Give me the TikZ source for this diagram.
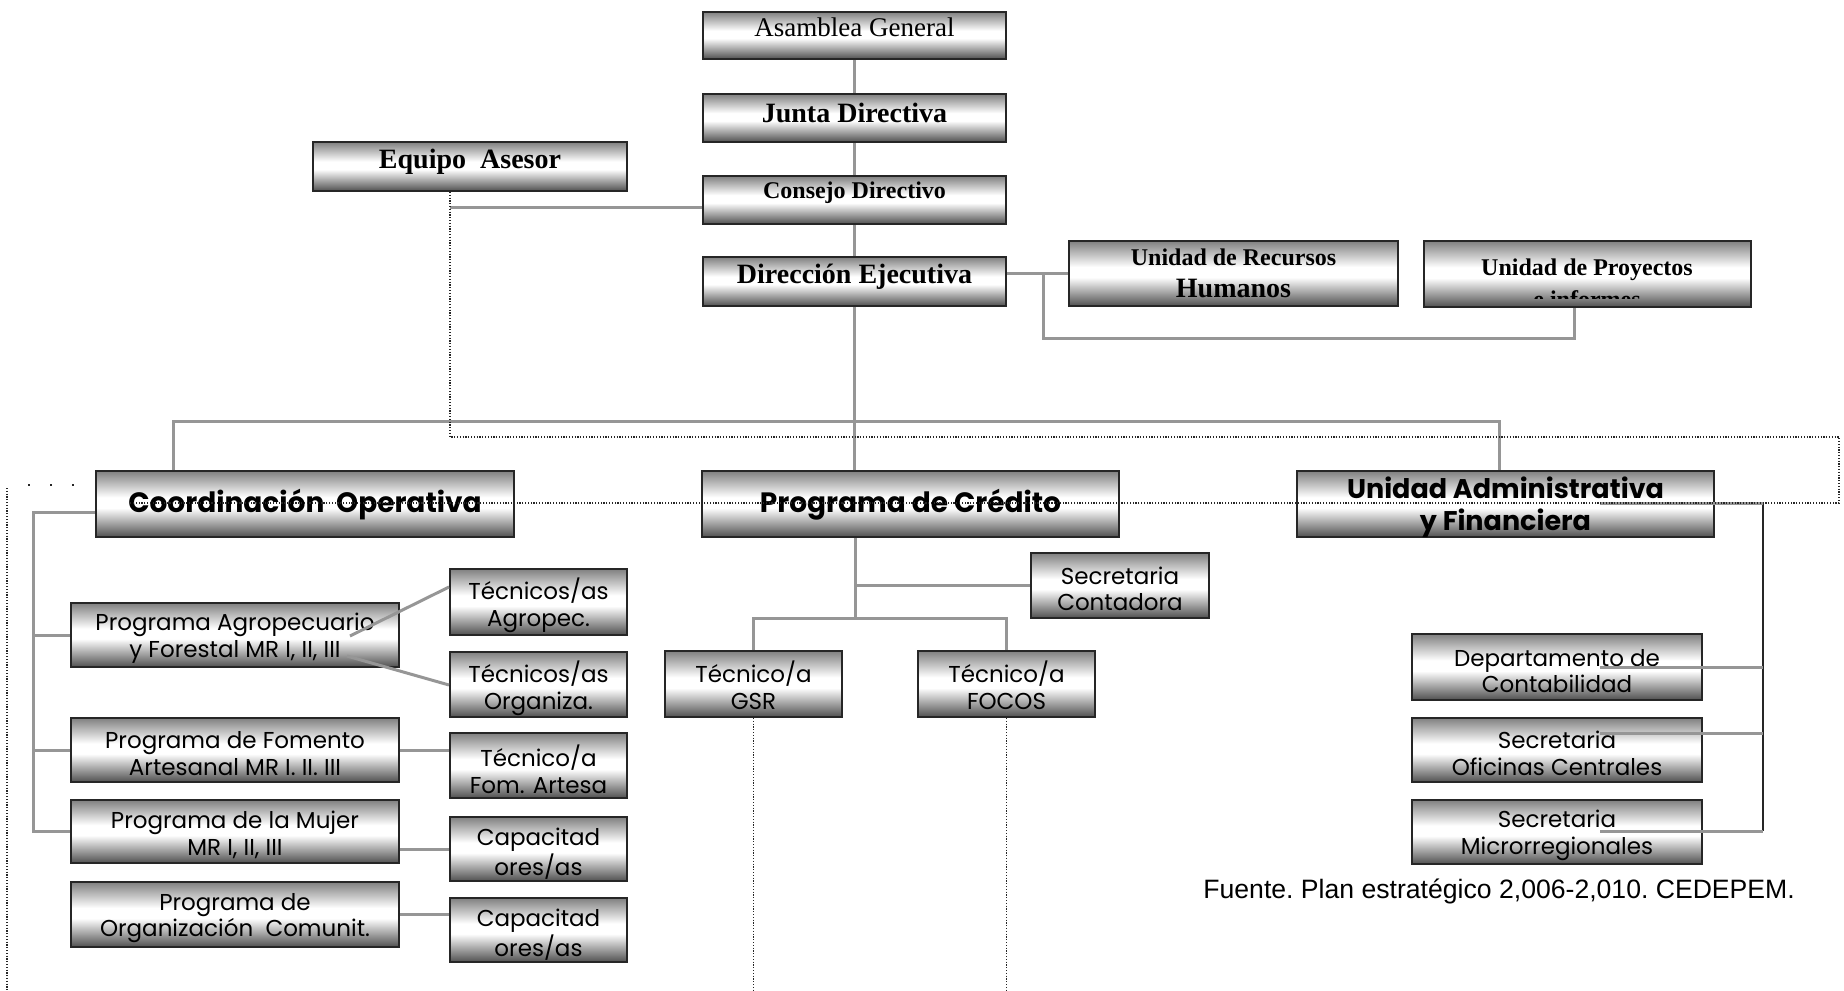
\documentclass[tikz,border=0pt]{standalone}
\usepackage{fontspec}
\setmainfont{Liberation Serif}
\newfontfamily\gothic{Poppins}
\newfontfamily\arialf{Liberation Sans}
\usetikzlibrary{backgrounds}
\definecolor{gbot}{RGB}{80,80,80}
\definecolor{gtop}{RGB}{128,128,128}
\definecolor{conncol}{RGB}{150,150,150}
\pgfdeclareverticalshading{boxshade}{100bp}{color(0bp)=(gbot); color(25bp)=(gbot); color(47bp)=(white); color(55bp)=(white); color(75bp)=(gtop); color(100bp)=(gtop)}
% box node #1 (corners #2,#3 / #4,#5), text node #1t shifted by #6 px, style #7, text #8
\newcommand{\obox}[8]{%
  \node[box,minimum width={(#4-#2)*0.5pt},minimum height={(#5-#3)*0.5pt}] (#1) at ({(#2+#4)/2},{(#3+#5)/2}) {};
  \node[lbl,#7] (#1t) at ({(#2+#4)/2},{(#3+#5)/2+#6}) {#8};}
\tikzset{
  box/.style={draw=black!85, line width=1pt, shade, shading=boxshade, inner sep=0pt},
  lbl/.style={inner sep=0pt, align=center},
  srf/.style={font=\fontsize{13.5}{15}\selectfont},
  srfb/.style={font=\fontsize{14}{16}\selectfont\bfseries},
  gth/.style={font=\gothic\fontsize{11.5}{13.3}\selectfont},
  gthb/.style={font=\gothic\fontsize{14}{16}\selectfont\bfseries},
  conn/.style={draw=conncol, line width=1.5pt},
  blk/.style={draw=black!85, line width=0.8pt},
  dotl/.style={draw=black!85, line width=0.6pt, dash pattern=on 0.6pt off 0.8pt}
}
\begin{document}
\begin{tikzpicture}[x=0.5pt,y=-0.5pt]
\useasboundingbox (0,0) rectangle (1844,991);
% top chain
\obox{asam}{703}{12}{1006}{59}{-8}{srf}{Asamblea General}
\obox{junta}{703}{94}{1006}{142}{-5}{srfb}{Junta Directiva}
\obox{equ}{313}{142}{627}{191}{-5}{srfb}{Equipo\ \ Asesor}
\obox{cons}{703}{176}{1006}{224}{-7}{font=\fontsize{12}{14}\selectfont\bfseries}{Consejo Directivo}
\obox{dir}{703}{257}{1006}{306}{-5}{srfb}{Direcci\'on Ejecutiva}
\obox{rrhh}{1069}{241}{1398}{306}{0}{font=\fontsize{12}{16}\selectfont\bfseries}{Unidad de Recursos\\{\fontsize{14}{16}\selectfont Humanos}}
\node[box,minimum width={(1751-1424)*0.5pt},minimum height={(307-241)*0.5pt}] (proy) at ({(1424+1751)/2},{(241+307)/2}) {};
\begin{scope}
\clip (1424,241) rectangle (1751,298);
\node[lbl,font=\fontsize{12}{16}\selectfont\bfseries] (proyt) at (1587,283) {Unidad de Proyectos\\e informes};
\end{scope}
% second level
\obox{coord}{96}{471}{514}{537}{1}{gthb}{Coordinaci\'on\ \ Operativa}
\obox{cred}{702}{471}{1119}{537}{1}{gthb}{Programa de Cr\'edito}
\obox{uadm}{1297}{471}{1714}{537}{3.5}{font=\gothic\fontsize{13.5}{15.9}\selectfont\bfseries}{Unidad Administrativa\\y Financiera}
% left programmes
\obox{agro}{71}{603}{399}{667}{3.5}{gth}{Programa Agropecuario\\y Forestal MR I, II, III}
\obox{tagr}{450}{569}{627}{635}{3.5}{gth}{T\'ecnicos/as\\Agropec.}
\obox{torg}{450}{652}{627}{717}{3.5}{gth}{T\'ecnicos/as\\Organiza.}
\obox{fom}{71}{718}{399}{782}{3.5}{gth}{Programa de Fomento\\Artesanal MR I. II. III}
\obox{tfom}{450}{733}{627}{798}{3.5}{gth}{T\'ecnico/a\\Fom. Artesa}
\obox{muj}{71}{800}{399}{863}{3.5}{gth}{Programa de la Mujer\\MR I, II, III}
\obox{cap1}{450}{817}{627}{881}{4.5}{gth}{Capacitad\\ores/as}
\obox{org}{71}{882}{399}{947}{3.5}{gth}{Programa de\\Organizaci\'on\ \ Comunit.}
\obox{cap2}{450}{898}{627}{962}{4.5}{gth}{Capacitad\\ores/as}
% credit
\obox{secc}{1031}{553}{1209}{618}{3.5}{gth}{Secretaria\\Contadora}
\obox{gsr}{665}{651}{842}{717}{1.5}{gth}{T\'ecnico/a\\GSR}
\obox{focos}{918}{651}{1095}{717}{1.5}{gth}{T\'ecnico/a\\FOCOS}
% admin
\obox{dep}{1412}{634}{1702}{700}{4}{gth}{Departamento de\\Contabilidad}
\obox{sof}{1412}{718}{1702}{782}{3.5}{gth}{Secretaria\\Oficinas Centrales}
\obox{smi}{1412}{800}{1702}{864}{3.5}{gth}{Secretaria\\Microrregionales}
\node[anchor=west, font=\arialf\fontsize{13.3}{15}\selectfont, inner sep=0pt] (fte) at (1203,891) {\frenchspacing Fuente. Plan estrat\'egico 2,006-2,010. CEDEPEM.};
% coordinates
\coordinate (eqj) at (450,207);
\coordinate (dbr) at (1043,273);
\coordinate (pbr) at (1574,338);
\coordinate (busL) at (173,421);
\coordinate (busR) at (1499,421);
\coordinate (sp) at (33,512);
\coordinate (cv) at (855,618);
\coordinate (ua) at (1600,503);
\coordinate (uv) at (1763,503);
\begin{pgfonlayer}{background}
\draw[conn] (asam.south) -- (asam.south |- cred.north);
\draw[conn] (eqj) -- (eqj -| cons.west);
\draw[conn] (rrhh.west) -- (rrhh.west -| dir.east);
\draw[conn] (dbr) |- (pbr) -- (pbr |- proy.south);
\draw[conn] (busL |- coord.north) -- (busL) -- (busR) -- (busR |- uadm.north);
\draw[conn] (coord.west |- sp) -- (sp) |- (muj.west);
\draw[conn] (sp) |- (agro.west);
\draw[conn] (sp) |- (fom.west);
\draw[conn] (fom.east) -- (fom.east -| tfom.west);
\draw[conn] (cap1.west) -- (cap1.west -| muj.east);
\draw[conn] (org.east) -- (org.east -| cap2.west);
\draw[conn] (cred.south -| cv) -- (cv);
\draw[conn] (secc.west) -- (secc.west -| cv);
\draw[conn] (gsr.north) -- (gsr.north |- cv) -- (focos.north |- cv) -- (focos.north);
\end{pgfonlayer}
% connectors drawn over boxes
\coordinate (ad1) at (350,636);
\coordinate (ad2) at (347,656);
\draw[conn] (ad1) -- (tagr.west |- 0,587);
\draw[conn] (ad2) -- (torg.west |- 0,685);
\draw[blk] (uv) -- (uv |- 0,831);
\draw[conn] (ua) -- (uv);
\draw[conn] (dep.center -| ua) -- (dep.center -| uv);
\draw[conn] (ua |- 0,733) -- (uv |- 0,733);
\draw[conn] (ua |- 0,831) -- (uv |- 0,831);
% dotted lines
\draw[dotl] (equ.south -| eqj) -- (450,437) -- (1839,437) -- (1839,503) -- (130,503);
\draw[dotl] (7,488) -- (7,991);
\draw[dotl, dash pattern=on 1pt off 10pt] (28,485) -- (80,485);
\draw[dotl] (gsr.south) -- (gsr.south |- 0,991);
\draw[dotl] (focos.south) -- (focos.south |- 0,991);
\end{tikzpicture}
\end{document}
